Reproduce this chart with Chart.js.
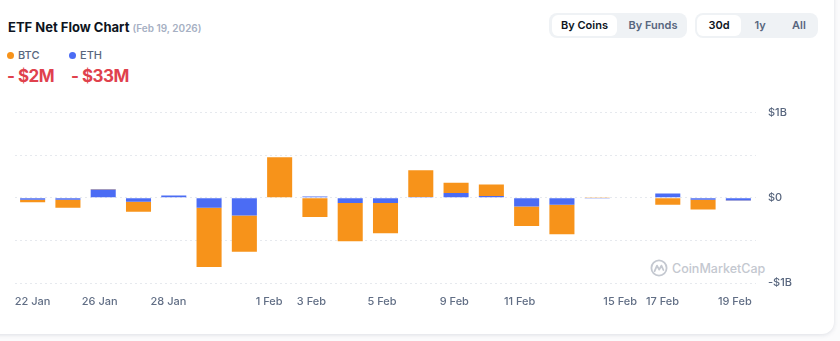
<!DOCTYPE html>
<html>
<head>
<meta charset="utf-8">
<title>ETF Net Flow Chart</title>
<script src="https://cdn.jsdelivr.net/npm/chart.js@4.4.1/dist/chart.umd.min.js"></script>
<style>
  html, body { margin: 0; padding: 0; }
  body {
    width: 840px; height: 341px; overflow: hidden; position: relative;
    background: #fbfbfc;
    font-family: Inter, "Noto Sans", sans-serif;
  }
  .card {
    position: absolute; left: -20px; top: -20px; width: 854px; height: 354px;
    background: #fff; border-radius: 12px;
    box-shadow: 0 1px 4px rgba(88, 102, 126, 0.18);
  }
  .abs { position: absolute; white-space: nowrap; }
  .title { left: 8px; top: 18px; line-height: 18px; font-size: 13px; font-weight: 700; color: #0d1421; }
  .title span { font-size: 10px; font-weight: 600; color: #a6b0c3; }
  .leg { top: 48px; line-height: 14px; font-size: 11px; font-weight: 500; color: #58667e; }
  .leg i { display: inline-block; width: 7px; height: 7px; border-radius: 50%; margin-right: 4px; vertical-align: 0px; }
  .val { top: 64px; line-height: 24px; font-size: 17px; letter-spacing: -0.5px; font-weight: 700; color: #e0414d; }
  .grp { top: 13px; height: 25px; background: #eff2f5; border-radius: 8px; }
  .btn { position: absolute; top: 2px; height: 21px; line-height: 21px; font-size: 11px; font-weight: 600;
         color: #58667e; text-align: center; border-radius: 6px; }
  .btn.on { background: #fff; color: #0d1421; }
  .wm { left: 650px; top: 259px; height: 18px; line-height: 18px; font-size: 12.5px; font-weight: 500; color: #c4c8d0; }
  .wm svg { vertical-align: -4px; margin-right: 4px; }
  #chart { position: absolute; left: 0; top: 94px; }
</style>
</head>
<body>
<div class="card"></div>

<div class="abs title">ETF Net Flow Chart <span>(Feb 19, 2026)</span></div>

<div class="abs leg" style="left:7px"><i style="background:#f7931a"></i>BTC</div>
<div class="abs leg" style="left:69px"><i style="background:#4b6cf4"></i>ETH</div>
<div class="abs val" style="left:7px">- $2M</div>
<div class="abs val" style="left:71px">- $33M</div>

<div class="abs grp" style="left:549px; width:138px">
  <div class="btn on" style="left:3px; width:65px">By Coins</div>
  <div class="btn" style="left:70px; width:68px">By Funds</div>
</div>
<div class="abs grp" style="left:695px; width:123px">
  <div class="btn on" style="left:2px; width:44px">30d</div>
  <div class="btn" style="left:50px; width:30px">1y</div>
  <div class="btn" style="left:88px; width:32px">All</div>
</div>

<div class="abs wm"><svg width="18" height="18" viewBox="0 0 18 18"><circle cx="9" cy="9" r="7.6" fill="none" stroke="#c4c8d0" stroke-width="1.8"/><path d="M4.6 12.2 L7 6.6 L9.2 10.6 L11.4 6.6 L13.4 11" fill="none" stroke="#c4c8d0" stroke-width="1.8" stroke-linejoin="round" stroke-linecap="round"/></svg>CoinMarketCap</div>

<canvas id="chart" width="800" height="226"></canvas>

<script>
// Trading days in the 30d window (Feb 16 was a market holiday)
const days = ['22 Jan', '23 Jan', '26 Jan', '27 Jan', '28 Jan', '29 Jan', '30 Jan',
              '2 Feb', '3 Feb', '4 Feb', '5 Feb', '6 Feb', '9 Feb', '10 Feb',
              '11 Feb', '12 Feb', '13 Feb', '16 Feb', '17 Feb', '18 Feb', '19 Feb'];

// Daily net flows, in millions of USD
const btcFlow = [-28, -94, 6, -117, -4, -695, -425, 476, -226, -448, -355,
                 312, 121, 137, -230, -347, 10, 0, -82, -113, -2];
const ethFlow = [-23, -23, 97, -47, 27, -117, -207, 0, 15, -62, -62,
                 10, 55, 20, -101, -82, -8, 0, 50, -23, -33];

// Date labels along the time axis, placed in trading-day units
const tickLabels = ['22 Jan', '26 Jan', '28 Jan', '1 Feb', '3 Feb', '5 Feb',
                    '9 Feb', '11 Feb', '15 Feb', '17 Feb', '19 Feb'];
const tickAt = [0, 1.9, 3.85, 6.7, 7.9, 9.9, 11.95, 13.8, 16.65, 17.85, 19.9];

// Value axis range and labelled values (millions)
const yRange = [-1000, 1000];
const yLabelled = { '1000': '$1B', '0': '$0', '-1000': '-$1B' };

const axisFont = { family: 'Inter', size: 11, weight: '500' };

new Chart(document.getElementById('chart'), {
  type: 'bar',
  data: {
    labels: days,
    datasets: [
      { label: 'ETH', data: ethFlow, backgroundColor: '#4b6cf4', xAxisID: 'x' },
      { label: 'BTC', data: btcFlow, backgroundColor: '#f7931a', xAxisID: 'x' }
    ]
  },
  options: {
    responsive: false,
    animation: false,
    layout: { padding: { left: 15, top: 6, right: 0, bottom: 0 } },
    categoryPercentage: 0.71,
    barPercentage: 1,
    plugins: { legend: { display: false }, tooltip: { enabled: false } },
    scales: {
      x: { type: 'category', display: false, stacked: true },
      xt: {
        type: 'linear', position: 'bottom', offset: false,
        min: -0.5, max: days.length - 0.5,
        grid: { display: false, drawTicks: false, offset: false },
        border: { display: false },
        afterBuildTicks: (s) => { s.ticks = tickAt.map(v => ({ value: v })); },
        afterFit: (s) => { s.height = 37; },
        ticks: {
          autoSkip: false, maxRotation: 0, padding: 12,
          color: '#616e85', font: axisFont,
          callback: (v) => tickLabels[tickAt.indexOf(v)]
        }
      },
      y: {
        position: 'right', stacked: true,
        min: yRange[0], max: yRange[1],
        grid: { color: '#e6e9ee', lineWidth: 1, drawTicks: false },
        border: { display: false, dash: [2, 3] },
        afterFit: (s) => { s.width = 44; },
        ticks: {
          stepSize: 500, padding: 12,
          color: '#58667e', font: axisFont,
          callback: (v) => yLabelled[String(v)] || ''
        }
      }
    }
  }
});
</script>
</body>
</html>
